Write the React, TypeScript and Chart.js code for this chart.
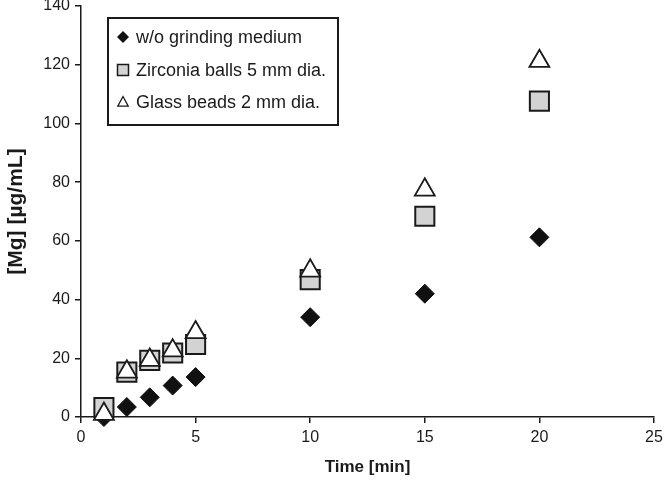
import React, { useEffect, useRef } from "react";
import { Chart, registerables } from "chart.js";

Chart.register(...registerables);

const times = [1, 2, 3, 4, 5, 10, 15, 20];
const woGrinding = [0, 3.4, 6.7, 10.7, 13.6, 34, 42, 61.2];
const zirconia = [3.2, 15.3, 19.3, 21.8, 24.7, 46.8, 68.4, 107.6];
const glass = [1, 15.4, 19.4, 22.6, 28.8, 49.8, 77.4, 121.2];
const seriesLabels = [
  "w/o grinding medium",
  "Zirconia balls 5 mm dia.",
  "Glass beads 2 mm dia.",
];
const xTicks = [0, 5, 10, 15, 20, 25];
const yTicks = [0, 20, 40, 60, 80, 100, 120, 140];

const FONT = "'Liberation Sans', Arial, sans-serif";
const INK = "#1a1a1a";

function drawMarker(ctx: CanvasRenderingContext2D, style: string, x: number, y: number, s: number) {
  ctx.beginPath();
  if (style === "rectRot") {
    ctx.moveTo(x, y - s);
    ctx.lineTo(x + s, y);
    ctx.lineTo(x, y + s);
    ctx.lineTo(x - s, y);
    ctx.closePath();
    ctx.fillStyle = "#111";
    ctx.fill();
  } else if (style === "rect") {
    ctx.rect(x - s, y - s, 2 * s, 2 * s);
    ctx.fillStyle = "#d3d3d3";
    ctx.fill();
    ctx.lineWidth = 1.5;
    ctx.strokeStyle = INK;
    ctx.stroke();
  } else {
    ctx.moveTo(x, y - s);
    ctx.lineTo(x + s * 0.95, y + s * 0.75);
    ctx.lineTo(x - s * 0.95, y + s * 0.75);
    ctx.closePath();
    ctx.fillStyle = "#fff";
    ctx.fill();
    ctx.lineWidth = 1.3;
    ctx.strokeStyle = INK;
    ctx.stroke();
  }
}

const insideLegend = {
  id: "insideLegend",
  afterDraw(chart: any) {
    const ctx = chart.ctx as CanvasRenderingContext2D;
    const left = 108;
    const top = 18;
    const w = 230;
    const h = 107;
    ctx.save();
    ctx.fillStyle = "#fff";
    ctx.fillRect(left, top, w, h);
    ctx.lineWidth = 2;
    ctx.strokeStyle = INK;
    ctx.strokeRect(left, top, w, h);
    const rowsY = [37, 70, 102];
    chart.data.datasets.forEach((ds: any, i: number) => {
      const y = rowsY[i];
      const st = ds.pointStyle;
      drawMarker(ctx, st, 123, y, st === "rectRot" ? 6 : 5.5);
      ctx.fillStyle = INK;
      ctx.font = `18px ${FONT}`;
      ctx.textBaseline = "middle";
      ctx.textAlign = "left";
      ctx.fillText(ds.label, 136, y + 1);
    });
    ctx.restore();
  },
};

export default function App() {
  const ref = useRef<HTMLCanvasElement | null>(null);

  useEffect(() => {
    document.body.style.margin = "0";
    const canvas = ref.current;
    if (!canvas) return;
    const mk = (vals: number[]) => times.map((t, i) => ({ x: t, y: vals[i] }));
    const chart = new Chart(canvas, {
      type: "scatter",
      data: {
        datasets: [
          {
            label: seriesLabels[0],
            data: mk(woGrinding),
            pointStyle: "rectRot",
            pointRadius: 9.5,
            pointHoverRadius: 9.5,
            backgroundColor: "#111",
            borderColor: "#111",
            borderWidth: 1,
            order: 2,
            clip: false,
          },
          {
            label: seriesLabels[1],
            data: mk(zirconia),
            pointStyle: "rect",
            pointRadius: 13.5,
            pointHoverRadius: 13.5,
            backgroundColor: "#d3d3d3",
            borderColor: INK,
            borderWidth: 2,
            order: 1,
            clip: false,
          },
          {
            label: seriesLabels[2],
            data: mk(glass),
            pointStyle: "triangle",
            pointRadius: 11.5,
            pointHoverRadius: 11.5,
            backgroundColor: "#fff",
            borderColor: INK,
            borderWidth: 1.8,
            order: 0,
            clip: false,
          },
        ] as any,
      },
      options: {
        animation: false,
        responsive: true,
        maintainAspectRatio: false,
        layout: { autoPadding: false, padding: { top: 6, right: 10, left: 0, bottom: 0 } },
        plugins: {
          legend: { display: false },
          tooltip: { enabled: false },
        },
        scales: {
          x: {
            type: "linear",
            min: 0,
            max: 25,
            afterBuildTicks: (s: any) => {
              s.ticks = xTicks.map((v) => ({ value: v }));
            },
            afterFit: (s: any) => {
              s.height = 68;
              s.paddingLeft = 0;
              s.paddingRight = 0;
            },
            border: { display: true, color: INK, width: 1.5 },
            grid: {
              display: true,
              drawOnChartArea: false,
              drawTicks: true,
              tickLength: 6,
              color: INK,
              lineWidth: 1.5,
            },
            ticks: {
              color: INK,
              font: { family: FONT, size: 16 },
              padding: 5,
              maxRotation: 0,
            },
            title: {
              display: true,
              text: "Time [min]",
              color: INK,
              font: { family: FONT, size: 17, weight: "bold" },
              padding: { top: 0, bottom: 7 },
            },
          },
          y: {
            type: "linear",
            min: 0,
            max: 140,
            afterBuildTicks: (s: any) => {
              s.ticks = yTicks.map((v) => ({ value: v }));
            },
            afterFit: (s: any) => {
              s.width = 81;
              s.paddingTop = 0;
              s.paddingBottom = 0;
            },
            border: { display: true, color: INK, width: 1.5 },
            grid: {
              display: true,
              drawOnChartArea: false,
              drawTicks: true,
              tickLength: 6,
              color: INK,
              lineWidth: 1.5,
            },
            ticks: {
              color: INK,
              font: { family: FONT, size: 16 },
              padding: 5,
            },
            title: {
              display: true,
              text: "[Mg] [µg/mL]",
              color: INK,
              font: { family: FONT, size: 21, weight: "bold" },
              padding: { top: 4, bottom: 0 },
            },
          },
        },
      },
      plugins: [insideLegend],
    });
    return () => chart.destroy();
  }, []);

  return (
    <div style={{ position: "relative", width: 664, height: 485 }}>
      <canvas ref={ref} />
    </div>
  );
}
